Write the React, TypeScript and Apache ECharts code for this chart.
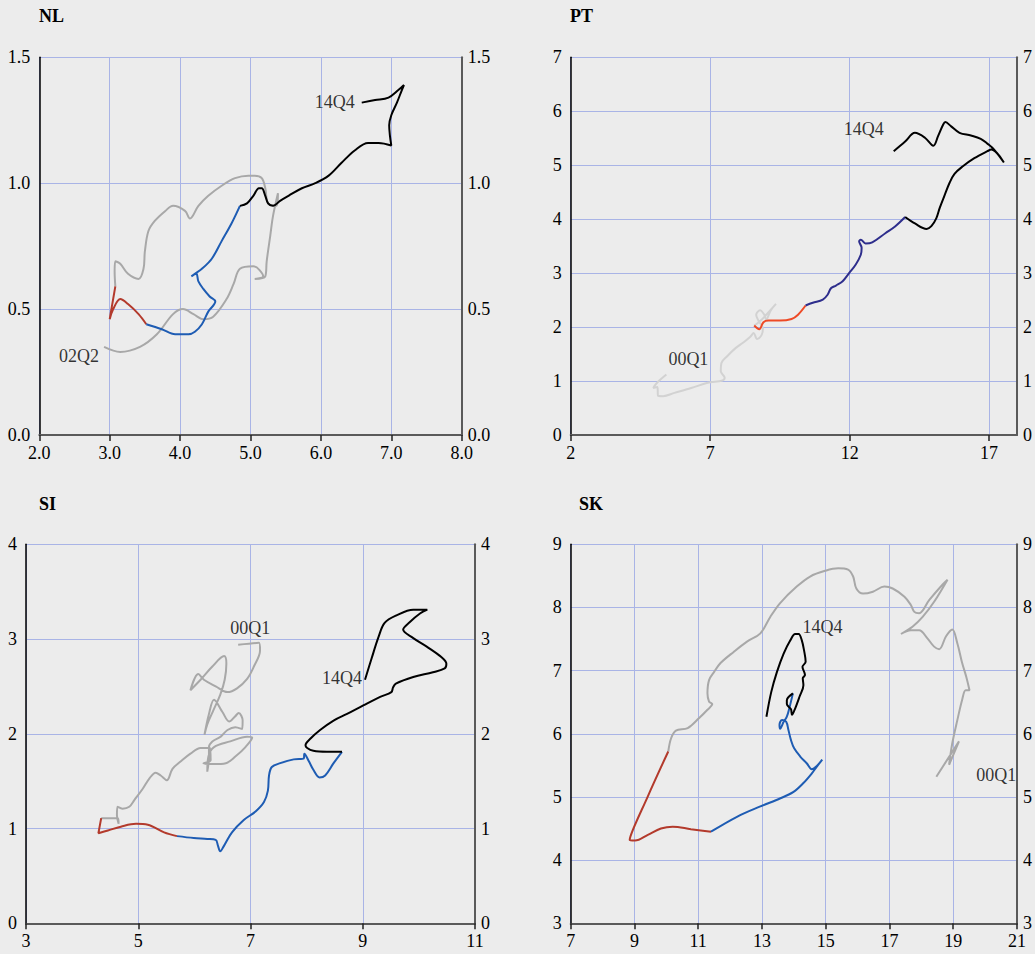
import React, { useEffect, useRef } from "react";
import * as echarts from "echarts";

// ---------- DATA (x, y) ----------
const nlGray = [[2.92,0.35],[3.15,0.33],[3.43,0.35],[3.67,0.40],[3.90,0.48],[4.04,0.50],[4.19,0.48],[4.33,0.46],[4.47,0.47],[4.66,0.54],[4.76,0.60],[4.85,0.66],[5.04,0.67],[5.18,0.63],[5.06,0.62],[5.21,0.63],[5.23,0.69],[5.28,0.79],[5.32,0.87],[5.39,0.96],[5.37,0.91],[5.25,0.92],[5.21,0.98],[5.16,1.02],[5.06,1.03],[4.97,1.03],[4.78,1.02],[4.59,0.99],[4.40,0.95],[4.26,0.91],[4.14,0.86],[4.07,0.89],[3.90,0.91],[3.79,0.89],[3.64,0.85],[3.55,0.81],[3.50,0.73],[3.48,0.66],[3.41,0.62],[3.26,0.64],[3.15,0.68],[3.08,0.69],[3.07,0.65],[3.08,0.59]];
const nlRed = [[3.08,0.59],[3.00,0.46],[3.05,0.50],[3.15,0.54],[3.26,0.52],[3.41,0.48],[3.52,0.44]];
const nlBlue = [[3.52,0.44],[3.74,0.42],[3.93,0.40],[4.12,0.40],[4.21,0.41],[4.31,0.44],[4.40,0.49],[4.50,0.53],[4.42,0.55],[4.33,0.58],[4.26,0.61],[4.23,0.64],[4.16,0.63],[4.21,0.64],[4.31,0.66],[4.45,0.70],[4.59,0.77],[4.73,0.84],[4.85,0.91]];
const nlBlack = [[4.85,0.91],[4.95,0.92],[5.04,0.95],[5.12,0.98],[5.16,0.98],[5.21,0.95],[5.25,0.92],[5.32,0.91],[5.42,0.93],[5.54,0.95],[5.73,0.98],[5.92,1.00],[6.11,1.03],[6.29,1.08],[6.48,1.13],[6.67,1.16],[6.82,1.16],[7.00,1.15],[6.98,1.19],[6.97,1.23],[7.00,1.27],[7.08,1.32],[7.15,1.37],[7.18,1.39],[7.10,1.37],[6.96,1.34],[6.77,1.33],[6.58,1.32]];

const ptGray = [[5.43,1.12],[5.08,0.96],[4.96,0.87],[5.11,0.89],[5.13,0.73],[5.31,0.72],[5.72,0.78],[6.32,0.87],[6.91,0.97],[7.44,1.01],[7.52,1.06],[7.38,1.18],[7.40,1.33],[7.61,1.46],[7.91,1.61],[8.20,1.72],[8.44,1.82],[8.56,1.89],[8.68,1.78],[8.85,1.86],[8.89,1.98],[8.74,2.11],[8.65,2.23],[8.79,2.31],[8.94,2.23],[9.01,2.14],[9.17,2.31],[9.36,2.43],[9.15,2.31],[8.91,2.17],[8.74,2.09],[8.58,2.03]];
const ptOrange = [[8.58,2.03],[8.76,1.96],[8.91,2.09],[9.09,2.12],[9.50,2.12],[9.92,2.15],[10.15,2.23],[10.42,2.40]];
const ptNavy = [[10.42,2.40],[10.68,2.45],[11.04,2.51],[11.21,2.60],[11.33,2.72],[11.51,2.77],[11.75,2.85],[11.98,3.00],[12.22,3.16],[12.40,3.34],[12.43,3.47],[12.34,3.59],[12.40,3.62],[12.57,3.55],[12.81,3.57],[13.28,3.74],[13.64,3.87],[13.99,4.04]];
const ptBlack = [[13.99,4.04],[14.34,3.92],[14.76,3.82],[14.93,3.87],[15.11,4.02],[15.23,4.21],[15.41,4.45],[15.58,4.67],[15.76,4.84],[16.06,4.98],[16.47,5.13],[16.94,5.26],[17.08,5.29],[17.53,5.05],[17.18,5.29],[16.94,5.40],[16.70,5.49],[16.35,5.55],[15.94,5.60],[15.64,5.72],[15.43,5.80],[15.35,5.75],[15.17,5.54],[15.00,5.36],[14.70,5.51],[14.34,5.60],[13.99,5.44],[13.58,5.26]];

const siGray = [[6.78,2.94],[7.15,2.96],[7.17,2.88],[7.06,2.71],[6.94,2.58],[6.76,2.48],[6.59,2.44],[6.38,2.50],[6.17,2.57],[6.07,2.63],[5.93,2.46],[6.11,2.57],[6.32,2.71],[6.53,2.82],[6.57,2.74],[6.54,2.57],[6.46,2.41],[6.34,2.25],[6.23,2.10],[6.18,1.99],[6.26,2.21],[6.35,2.36],[6.50,2.23],[6.62,2.13],[6.72,2.18],[6.79,2.22],[6.86,2.14],[6.85,2.05],[6.73,2.07],[6.59,2.04],[6.47,1.97],[6.32,1.92],[6.26,1.86],[6.26,1.76],[6.23,1.60],[6.25,1.76],[6.35,1.86],[6.64,1.92],[6.94,1.97],[7.03,1.96],[6.91,1.86],[6.73,1.76],[6.56,1.69],[6.35,1.68],[6.16,1.69],[6.29,1.72],[6.28,1.85],[6.11,1.85],[5.93,1.79],[5.76,1.71],[5.61,1.63],[5.51,1.51],[5.40,1.56],[5.31,1.59],[5.20,1.53],[5.08,1.42],[4.93,1.30],[4.84,1.23],[4.72,1.21],[4.63,1.23],[4.62,1.14],[4.65,1.05],[4.64,1.11],[4.34,1.11]];
const siRed = [[4.34,1.11],[4.29,0.95],[4.46,0.98],[4.69,1.02],[4.96,1.05],[5.17,1.04],[5.46,0.96],[5.69,0.92]];
const siBlue = [[5.69,0.92],[5.99,0.90],[6.23,0.89],[6.38,0.88],[6.42,0.82],[6.46,0.76],[6.53,0.82],[6.67,0.96],[6.88,1.09],[7.09,1.18],[7.24,1.28],[7.31,1.40],[7.33,1.56],[7.38,1.65],[7.53,1.69],[7.77,1.73],[7.95,1.74],[7.96,1.79],[8.04,1.71],[8.12,1.62],[8.23,1.54],[8.33,1.56],[8.48,1.69],[8.63,1.81]];
const siBlack = [[8.63,1.81],[8.36,1.81],[8.12,1.82],[8.01,1.85],[7.98,1.88],[8.07,1.95],[8.24,2.04],[8.48,2.14],[8.72,2.21],[9.01,2.30],[9.31,2.39],[9.51,2.44],[9.54,2.49],[9.59,2.53],[9.90,2.60],[10.25,2.65],[10.46,2.69],[10.49,2.74],[10.40,2.81],[10.14,2.92],[9.90,3.01],[9.72,3.10],[9.84,3.18],[10.02,3.27],[10.15,3.31],[9.90,3.31],[9.60,3.25],[9.39,3.17],[9.28,3.02],[9.16,2.80],[9.04,2.57]];

const skGray = [[18.47,5.32],[19.18,5.88],[18.87,5.51],[18.97,5.85],[19.13,6.22],[19.28,6.54],[19.39,6.69],[19.51,6.69],[19.41,6.90],[19.28,7.12],[19.13,7.43],[18.97,7.65],[18.77,7.54],[18.56,7.34],[18.40,7.38],[18.19,7.51],[17.93,7.64],[17.67,7.64],[17.36,7.58],[17.73,7.70],[18.04,7.85],[18.40,8.09],[18.82,8.44],[18.66,8.36],[18.25,8.12],[17.93,7.91],[17.78,7.93],[17.67,8.04],[17.47,8.17],[17.10,8.30],[16.84,8.33],[16.48,8.25],[16.17,8.22],[15.96,8.30],[15.86,8.49],[15.70,8.60],[15.39,8.62],[14.98,8.58],[14.51,8.49],[14.09,8.33],[13.57,8.07],[13.26,7.85],[12.95,7.59],[12.53,7.46],[12.12,7.30],[11.70,7.12],[11.50,6.98],[11.34,6.85],[11.29,6.64],[11.34,6.51],[11.44,6.47],[11.29,6.38],[11.03,6.25],[10.67,6.09],[10.30,6.05],[10.15,5.93],[10.06,5.72]];
const skRed = [[10.06,5.72],[9.42,5.01],[8.85,4.32],[9.02,4.31],[9.42,4.40],[9.83,4.50],[10.20,4.53],[10.77,4.49],[11.40,4.45]];
const skBlue = [[11.40,4.45],[12.23,4.69],[12.95,4.85],[13.58,4.98],[13.99,5.08],[14.30,5.22],[14.56,5.37],[14.72,5.48],[14.89,5.59],[14.72,5.49],[14.56,5.44],[14.41,5.53],[14.20,5.64],[14.01,5.77],[13.91,5.90],[13.83,6.06],[13.76,6.19],[13.63,6.22],[13.55,6.14],[13.57,6.08],[13.68,6.19],[13.78,6.27],[13.87,6.43],[13.97,6.64]];
const skBlack = [[13.97,6.64],[13.78,6.53],[13.78,6.47],[13.91,6.39],[13.94,6.30],[14.04,6.40],[14.18,6.59],[14.30,6.77],[14.28,6.88],[14.35,6.93],[14.27,7.06],[14.37,7.14],[14.32,7.32],[14.25,7.48],[14.15,7.58],[14.04,7.58],[13.89,7.48],[13.68,7.27],[13.47,6.98],[13.29,6.66],[13.14,6.27]];

const panelNames = ["NL", "PT", "SI", "SK"];
const startLabels = ["02Q2", "00Q1", "00Q1", "00Q1"];
const endLabel = "14Q4";

// ---------- STYLE / LAYOUT ----------
const FONT = "Liberation Serif";
const GRAY = "#a8a8a8";
const LIGHTGRAY = "#d2d2d2";
const RED = "#b33a2c";
const BLUE = "#1e5cb3";
const ORANGE = "#ee4a26";
const NAVY = "#2e2e8c";
const BLACK = "#000000";
const GRIDLINE = "#a9b4e6";

const panels = [
  { grid: { left: 39.3, top: 57.3, width: 422.4, height: 377.7 }, x: [2, 8, 1, 1], y: [0, 1.5, 0.5, 1],
    title: [39, 7], segs: [[nlGray, GRAY], [nlRed, RED], [nlBlue, BLUE], [nlBlack, BLACK]],
    startOff: [-25, 9], endOff: [-27, -1] },
  { grid: { left: 570.7, top: 57.3, width: 449.3, height: 377.7 }, x: [2, 18, 5, 0], y: [0, 7, 1, 0],
    title: [570, 7], segs: [[ptGray, LIGHTGRAY], [ptOrange, ORANGE], [ptNavy, NAVY], [ptBlack, BLACK]],
    startOff: [22, -16], endOff: [-30, -22] },
  { grid: { left: 26, top: 544.3, width: 449, height: 379 }, x: [3, 11, 2, 0], y: [0, 4, 1, 0],
    title: [39, 495], segs: [[siGray, GRAY], [siRed, RED], [siBlue, BLUE], [siBlack, BLACK]],
    startOff: [12, -17], endOff: [-23, -2] },
  { grid: { left: 570.7, top: 544.3, width: 449.3, height: 379 }, x: [7, 21, 2, 0], y: [3, 9, 1, 0],
    title: [579, 495], segs: [[skGray, GRAY], [skRed, RED], [skBlue, BLUE], [skBlack, BLACK]],
    startOff: [60, -2], endOff: [56, -90] },
];

const richLabel = { t: { fontFamily: FONT, fontSize: 18, color: "#000" } };

function buildOption() {
  const grids: any[] = [];
  const xAxes: any[] = [];
  const yAxes: any[] = [];
  const series: any[] = [];
  const titles: any[] = [];
  panels.forEach((p, i) => {
    grids.push({ ...p.grid, containLabel: false });
    titles.push({
      text: panelNames[i], left: p.title[0], top: p.title[1], padding: 0,
      textStyle: { fontFamily: FONT, fontWeight: "bold", fontSize: 18, color: "#000" },
    });
    const [xmin, xmax, xint, xdec] = p.x;
    const [ymin, ymax, yint, ydec] = p.y;
    xAxes.push({
      type: "value", gridIndex: i, min: xmin, max: xmax, interval: xint,
      axisLine: { show: true, lineStyle: { color: "#5a5a5a", width: 2 } },
      axisTick: { show: true, inside: false, length: 6, lineStyle: { color: "#222", width: 1.5 } },
      axisLabel: { show: true, margin: 9, fontFamily: FONT, fontSize: 18, color: "#000",
        showMaxLabel: i === 1 ? false : true, rich: richLabel,
        formatter: (v: number) => `{t|${v.toFixed(xdec)}}` },
      splitLine: { show: true, lineStyle: { color: GRIDLINE, width: 1 } },
    });
    const yBase = {
      type: "value", gridIndex: i, min: ymin, max: ymax, interval: yint,
      axisTick: { show: false },
    };
    yAxes.push({
      ...yBase, position: "left",
      axisLine: { show: true, lineStyle: { color: "#000", width: 1.5 } },
      axisLabel: { show: true, margin: 9, fontFamily: FONT, fontSize: 18, color: "#000", rich: richLabel,
        formatter: (v: number) => `{t|${v.toFixed(ydec)}}` },
      splitLine: { show: true, lineStyle: { color: GRIDLINE, width: 1 } },
    });
    yAxes.push({
      ...yBase, position: "right",
      axisLine: { show: true, lineStyle: { color: "#5a5a5a", width: 2 } },
      axisLabel: { show: true, margin: 6, fontFamily: FONT, fontSize: 18, color: "#000", rich: richLabel,
        formatter: (v: number) => `{t|${v.toFixed(ydec)}}` },
      splitLine: { show: false },
    });
    p.segs.forEach(([data, color]: any) => {
      series.push({
        type: "line", xAxisIndex: i, yAxisIndex: i * 2, data, smooth: 0.35,
        symbol: "none", showSymbol: false, silent: true,
        lineStyle: { color, width: 2 },
      });
    });
    const first = (p.segs[0][0] as number[][])[0];
    const lastSeg = p.segs[p.segs.length - 1][0] as number[][];
    const last = lastSeg[lastSeg.length - 1];
    const lbl = (pt: number[], text: string, off: number[]) => ({
      type: "scatter", xAxisIndex: i, yAxisIndex: i * 2, data: [pt], symbolSize: 1,
      silent: true, itemStyle: { color: "transparent" }, z: 5,
      label: { show: true, position: "inside", offset: off, formatter: text,
        fontFamily: FONT, fontSize: 18, color: "#000" },
    });
    series.push(lbl(first, startLabels[i], p.startOff));
    series.push(lbl(last, endLabel, p.endOff));
  });
  return {
    animation: false,
    backgroundColor: "#ececec",
    textStyle: { fontFamily: FONT },
    title: titles,
    grid: grids,
    xAxis: xAxes,
    yAxis: yAxes,
    series,
  };
}

export default function App() {
  const ref = useRef<HTMLDivElement>(null);
  useEffect(() => {
    if (!ref.current) return;
    const chart = echarts.init(ref.current, undefined, { renderer: "svg" });
    chart.setOption(buildOption() as any);
    return () => chart.dispose();
  }, []);
  return (
    <div
      ref={ref}
      style={{ position: "absolute", left: 0, top: 0, width: 1035, height: 954, background: "#ececec" }}
    />
  );
}
